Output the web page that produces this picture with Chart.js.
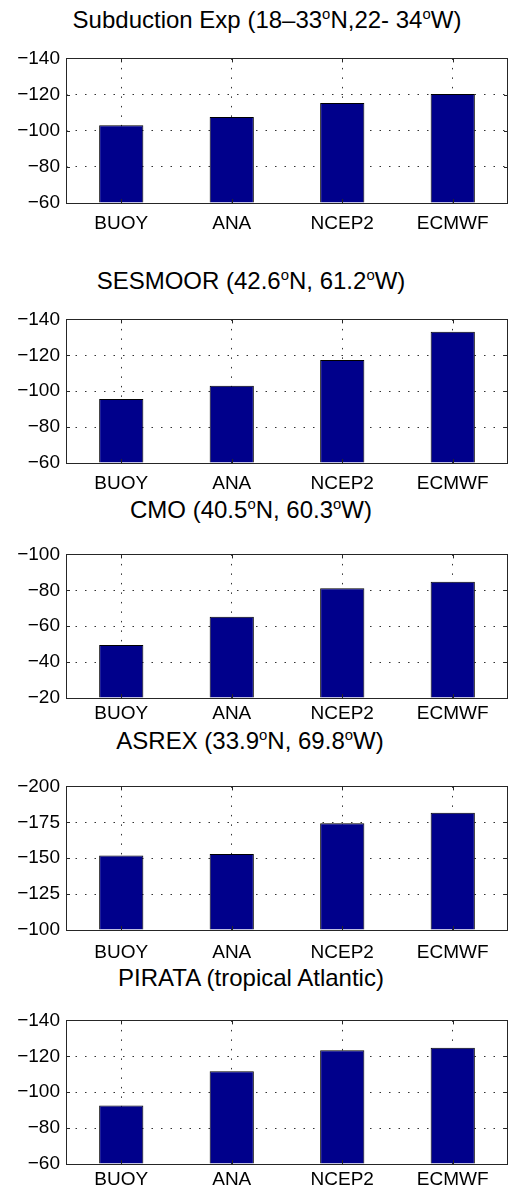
<!DOCTYPE html>
<html lang="en">
<head>
<meta charset="UTF-8">
<title>Buoy comparison</title>
<script src="https://cdn.jsdelivr.net/npm/chart.js"></script>
<style>
  body { margin: 0; background: #fff; }
  #wrap { position: relative; width: 512px; height: 1192px; overflow: hidden; }
  canvas { position: absolute; left: 0; }
  .ttl {
    position: absolute; white-space: nowrap; transform: translateX(-50%);
    font-family: 'Liberation Sans', Arial, sans-serif; font-size: 24px;
    line-height: 24px; color: #000;
  }
  .ttl sup { font-size: 0.62em; vertical-align: 0.6em; line-height: 0; }
</style>
</head>
<body>
<div id="wrap"></div>
<script>
// data
const categories = ['BUOY', 'ANA', 'NCEP2', 'ECMWF'];
const titles = [
  'Subduction Exp (18–33<sup>o</sup>N,22- 34<sup>o</sup>W)',
  'SESMOOR (42.6<sup>o</sup>N, 61.2<sup>o</sup>W)',
  'CMO (40.5<sup>o</sup>N, 60.3<sup>o</sup>W)',
  'ASREX (33.9<sup>o</sup>N, 69.8<sup>o</sup>W)',
  'PIRATA (tropical Atlantic)'
];
const subductionVals = [-103, -107.6, -115.3, -120.3];
const sesmoorVals    = [-95.6, -103.1, -117.4, -133.1];
const cmoVals        = [-49.5, -65.3, -81.2, -84.8];
const asrexVals      = [-151.9, -153, -174.3, -181.7];
const pirataVals     = [-92.6, -111.7, -123.4, -124.8];
const seriesVals = [subductionVals, sesmoorVals, cmoVals, asrexVals, pirataVals];
// y ranges: [top, bottom, step]
const yTop    = [-140, -140, -100, -200, -140];
const yBottom = [-60, -60, -20, -100, -60];
const yStep   = [20, 20, 20, 25, 20];

// layout of each panel (pixels on the page)
const panels = [
  { plotTop: 53,   plotBottom: 203,  labelPad: 9,  titleX: 267, titleTop: 8 },
  { plotTop: 314,  plotBottom: 463,  labelPad: 9,  titleX: 251, titleTop: 269 },
  { plotTop: 549,  plotBottom: 698,  labelPad: 4,  titleX: 251, titleTop: 497.5 },
  { plotTop: 781,  plotBottom: 930,  labelPad: 11, titleX: 250, titleTop: 729 },
  { plotTop: 1015, plotBottom: 1164, labelPad: 4,  titleX: 251, titleTop: 966 }
];

const FONT = "'Liberation Sans', Arial, sans-serif";
const BAR = '#00008b';
const AXIS = '#262626';
const PAD_TOP = 12, XAXIS_H = 28, YAXIS_W = 66;

// box around the plot area plus inward tick marks (matlab style)
const boxPlugin = {
  id: 'box',
  afterDatasetsDraw(chart) {
    const { ctx, chartArea: a, scales: { x, y } } = chart;
    ctx.save();
    ctx.strokeStyle = AXIS;
    ctx.lineWidth = 1;
    ctx.beginPath();
    x.ticks.forEach((t, i) => {
      const px = Math.round(x.getPixelForValue(i)) + 0.5;
      ctx.moveTo(px, a.top); ctx.lineTo(px, a.top + 4);
      ctx.moveTo(px, a.bottom); ctx.lineTo(px, a.bottom - 4);
    });
    y.ticks.forEach(t => {
      const py = Math.round(y.getPixelForValue(t.value)) + 0.5;
      ctx.moveTo(a.left, py); ctx.lineTo(a.left + 4, py);
      ctx.moveTo(a.right, py); ctx.lineTo(a.right - 4, py);
    });
    ctx.stroke();
    ctx.strokeRect(Math.round(a.left) + 0.5, Math.round(a.top) + 0.5,
                   Math.round(a.right - a.left) - 1, Math.round(a.bottom - a.top));
    ctx.restore();
  }
};

const wrap = document.getElementById('wrap');

panels.forEach((p, k) => {
  const t = document.createElement('div');
  t.className = 'ttl';
  t.style.left = p.titleX + 'px';
  t.style.top = p.titleTop + 'px';
  t.innerHTML = titles[k];
  wrap.appendChild(t);

  const cv = document.createElement('canvas');
  const h = (p.plotBottom - p.plotTop) + PAD_TOP + XAXIS_H;
  cv.width = 512;
  cv.height = h;
  cv.style.top = (p.plotTop - PAD_TOP) + 'px';
  wrap.appendChild(cv);

  new Chart(cv, {
    type: 'bar',
    data: {
      labels: categories,
      datasets: [{
        data: seriesVals[k],
        base: yBottom[k],
        backgroundColor: BAR,
        borderColor: '#000',
        borderWidth: 1,
        barPercentage: 0.4,
        categoryPercentage: 1.0
      }]
    },
    options: {
      responsive: false,
      animation: false,
      layout: { padding: { top: PAD_TOP, right: 4, left: 0, bottom: 0 } },
      plugins: { legend: { display: false }, tooltip: { enabled: false }, title: { display: false } },
      scales: {
        x: {
          grid: { offset: false, drawTicks: false, color: '#333', lineWidth: 1 },
          border: { display: false, dash: [1.5, 8] },
          ticks: { color: '#000', padding: p.labelPad, font: { family: FONT, size: 19 } },
          afterFit(s) { s.height = XAXIS_H; }
        },
        y: {
          reverse: true,
          min: yTop[k],
          max: yBottom[k],
          grid: { drawTicks: false, color: '#333', lineWidth: 1 },
          border: { display: false, dash: [1.5, 8] },
          ticks: {
            stepSize: yStep[k],
            color: '#000',
            padding: 6,
            font: { family: FONT, size: 19 },
            callback: v => String(v).replace('-', '\u2212')
          },
          afterFit(s) { s.width = YAXIS_W; }
        }
      }
    },
    plugins: [boxPlugin]
  });
});
</script>
</body>
</html>
